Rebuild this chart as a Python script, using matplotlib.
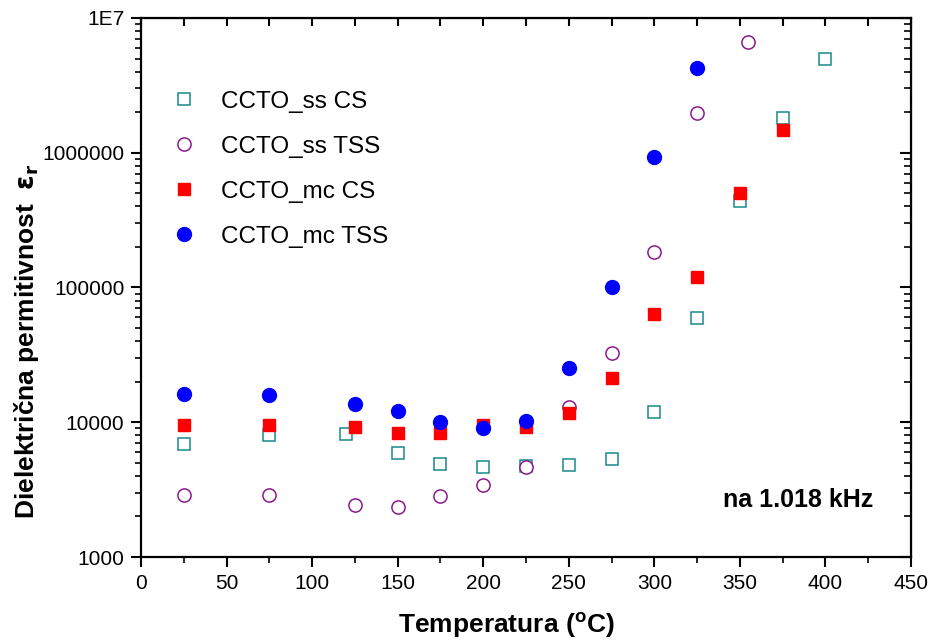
import matplotlib
matplotlib.use('agg')
import matplotlib.pyplot as plt
from matplotlib.ticker import LogLocator, MultipleLocator, NullFormatter, FixedFormatter, FixedLocator
import numpy as np

plt.rcParams['font.family'] = ['Liberation Sans', 'DejaVu Sans']

# temperature (C) and permittivity for each sample
t_ss_cs = [25, 75, 120, 150, 175, 200, 225, 250, 275, 300, 325, 350, 375, 400]
e_ss_cs = [6840, 7980, 8220, 5930, 4910, 4690, 4700, 4810, 5320, 11970, 59800, 436000, 1810000, 4930000]

t_ss_tss = [25, 75, 125, 150, 175, 200, 225, 250, 275, 300, 325, 355]
e_ss_tss = [2900, 2900, 2420, 2350, 2840, 3410, 4690, 12900, 32500, 184000, 1980000, 6600000]

t_mc_cs = [25, 75, 125, 150, 175, 200, 225, 250, 275, 300, 325, 350, 375]
e_mc_cs = [9470, 9500, 9150, 8270, 8300, 9600, 9300, 11700, 21300, 63700, 119000, 500000, 1480000]

t_mc_tss = [25, 75, 125, 150, 175, 200, 225, 250, 275, 300, 325]
e_mc_tss = [16100, 15900, 13700, 12200, 10030, 9050, 10250, 25300, 100500, 926000, 4250000]

ytick_vals = [1000, 10000, 100000, 1000000, 10000000]
ytick_labels = ['1000', '10000', '100000', '1000000', '1E7']

fig = plt.figure(figsize=(9.33, 6.41), dpi=100)
ax = fig.add_axes([0.1511, 0.131, 0.8253, 0.841])

ax.plot(t_ss_cs, e_ss_cs, 's', ms=8.5, mfc='white', mec='#1a8a8a', mew=1.1, ls='none', label='CCTO_ss CS')
ax.plot(t_ss_tss, e_ss_tss, 'o', ms=9.5, mfc='white', mec='#8b1a8b', mew=1.1, ls='none', label='CCTO_ss TSS')
ax.plot(t_mc_cs, e_mc_cs, 's', ms=8.5, mfc='#ff0000', mec='#ff0000', ls='none', label='CCTO_mc CS')
ax.plot(t_mc_tss, e_mc_tss, 'o', ms=10, mfc='#0000ff', mec='#0000ff', ls='none', label='CCTO_mc TSS')

ax.set_yscale('log')
ax.set_xlim(0, 450)
ax.set_ylim(1000, 1e7)
ax.yaxis.set_major_locator(FixedLocator(ytick_vals))
ax.yaxis.set_major_formatter(FixedFormatter(ytick_labels))
ax.yaxis.set_minor_locator(LogLocator(base=10, subs=np.arange(2, 10)))
ax.yaxis.set_minor_formatter(NullFormatter())
ax.xaxis.set_major_locator(MultipleLocator(50))
ax.xaxis.set_minor_locator(MultipleLocator(25))

for s in ax.spines.values():
    s.set_linewidth(1.6)

ax.tick_params(which='major', direction='out', length=7, width=1.5, labelsize=15,
               top=False, right=False, pad=5)
ax.tick_params(which='minor', direction='out', length=4, width=1.2, top=False, right=False)

# mirrored inward ticks on top and right
axt = ax.secondary_xaxis('top')
axt.xaxis.set_major_locator(MultipleLocator(25))
axt.tick_params(which='both', direction='in', length=6, width=1.5, labeltop=False)
axr = ax.secondary_yaxis('right')
axr.yaxis.set_major_locator(FixedLocator(ytick_vals))
axr.yaxis.set_minor_locator(LogLocator(base=10, subs=np.arange(2, 10)))
axr.tick_params(which='major', direction='in', length=8, width=1.5, labelright=False)
axr.tick_params(which='minor', direction='in', length=5, width=1.2, labelright=False)
axr.yaxis.set_minor_formatter(NullFormatter())

ax.set_xlabel('Temperatura ($\\mathregular{^o}$C)', fontsize=19, fontweight='bold')
ax.xaxis.set_label_coords(0.474, -0.100)
ax.set_ylabel('Dielektrična permitivnost  $\\mathbf{\\varepsilon_r}$', fontsize=19,
              fontweight='bold')
ax.yaxis.set_label_coords(-0.13, 0.40)

ax.text(384, 2655, 'na 1.018 kHz', fontsize=18, fontweight='bold', ha='center', va='center')

ax.legend(loc='upper left', bbox_to_anchor=(0.015, 0.897), frameon=False, fontsize=17.5,
          handlelength=1.2, handletextpad=0.9, labelspacing=0.95, borderpad=0.2)

fig.savefig('out.png', dpi=100)
